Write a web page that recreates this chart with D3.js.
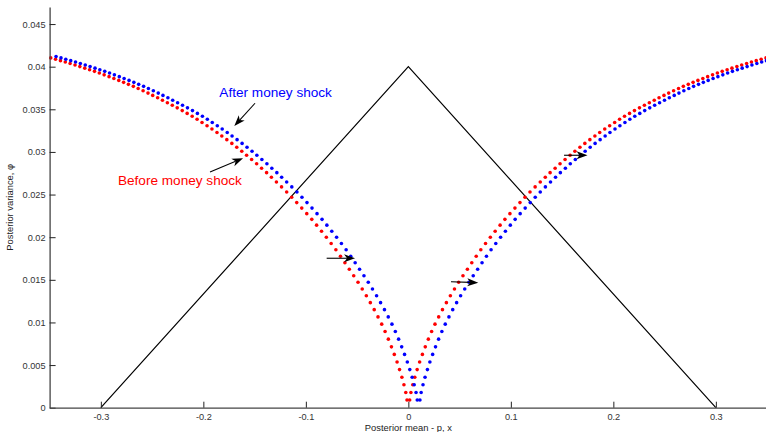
<!DOCTYPE html>
<html>
<head>
<meta charset="utf-8">
<script src="https://cdn.jsdelivr.net/npm/d3@7/dist/d3.min.js"></script>
<style>
  html, body { margin: 0; padding: 0; background: #fff; }
  svg { display: block; font-family: "Liberation Sans", Arial, sans-serif; }
</style>
</head>
<body>
<svg id="chart" width="766" height="432"></svg>
<script>
// Posterior variance levels shared by every dotted branch (one dot per level)
const phi = [
  0.00090, 0.00179, 0.00269, 0.00358, 0.00447, 0.00536, 0.00625, 0.00714, 0.00804, 0.00893,
  0.00980, 0.01065, 0.01150, 0.01232, 0.01313, 0.01392, 0.01471, 0.01548, 0.01624, 0.01701,
  0.01777, 0.01852, 0.01926, 0.01999, 0.02070, 0.02141, 0.02209, 0.02276, 0.02341, 0.02406,
  0.02469, 0.02530, 0.02590, 0.02648, 0.02703, 0.02757, 0.02809, 0.02861, 0.02911, 0.02961,
  0.03008, 0.03055, 0.03100, 0.03144, 0.03187, 0.03228, 0.03269, 0.03308, 0.03346, 0.03383,
  0.03418, 0.03452, 0.03485, 0.03517, 0.03547, 0.03577, 0.03606, 0.03635, 0.03663, 0.03690,
  0.03717, 0.03744, 0.03769, 0.03793, 0.03816, 0.03839, 0.03862, 0.03883, 0.03904, 0.03925,
  0.03945, 0.03964, 0.03983, 0.04001, 0.04019, 0.04037, 0.04054, 0.04071, 0.04087, 0.04103,
  0.04119
];

// Posterior mean before the money shock (left and right branch)
const beforeLeftX = [
  -0.0013, -0.0025, -0.0043, -0.0063, -0.0086, -0.0110, -0.0137, -0.0165, -0.0195, -0.0227,
  -0.0260, -0.0296, -0.0333, -0.0371, -0.0410, -0.0450, -0.0491, -0.0533, -0.0576, -0.0619,
  -0.0662, -0.0707, -0.0753, -0.0800, -0.0847, -0.0895, -0.0942, -0.0991, -0.1040, -0.1089,
  -0.1138, -0.1187, -0.1237, -0.1287, -0.1336, -0.1383, -0.1432, -0.1480, -0.1529, -0.1578,
  -0.1625, -0.1674, -0.1722, -0.1771, -0.1820, -0.1867, -0.1916, -0.1964, -0.2013, -0.2061,
  -0.2109, -0.2158, -0.2206, -0.2255, -0.2303, -0.2351, -0.2399, -0.2446, -0.2494, -0.2540,
  -0.2588, -0.2636, -0.2683, -0.2731, -0.2778, -0.2825, -0.2873, -0.2920, -0.2968, -0.3015,
  -0.3062, -0.3110, -0.3157, -0.3205, -0.3252, -0.3300, -0.3347, -0.3394, -0.3442, -0.3489,
  -0.3537
];
const beforeRightX = [
  0.0013, 0.0025, 0.0043, 0.0063, 0.0086, 0.0110, 0.0137, 0.0165, 0.0195, 0.0227,
  0.0260, 0.0296, 0.0333, 0.0371, 0.0410, 0.0450, 0.0491, 0.0533, 0.0576, 0.0619,
  0.0662, 0.0707, 0.0753, 0.0800, 0.0847, 0.0895, 0.0942, 0.0991, 0.1040, 0.1089,
  0.1138, 0.1187, 0.1237, 0.1287, 0.1336, 0.1383, 0.1432, 0.1480, 0.1529, 0.1578,
  0.1625, 0.1674, 0.1722, 0.1771, 0.1820, 0.1867, 0.1916, 0.1964, 0.2013, 0.2061,
  0.2109, 0.2158, 0.2206, 0.2255, 0.2303, 0.2351, 0.2399, 0.2446, 0.2494, 0.2540,
  0.2588, 0.2636, 0.2683, 0.2731, 0.2778, 0.2825, 0.2873, 0.2920, 0.2968, 0.3015,
  0.3062, 0.3110, 0.3157, 0.3205, 0.3252, 0.3300, 0.3347, 0.3394, 0.3442, 0.3489,
  0.3537
];

// Posterior mean after the money shock (left and right branch)
const afterLeftX = [
  0.0087, 0.0075, 0.0057, 0.0037, 0.0014, -0.0010, -0.0037, -0.0065, -0.0095, -0.0127,
  -0.0160, -0.0196, -0.0233, -0.0271, -0.0310, -0.0350, -0.0391, -0.0433, -0.0476, -0.0519,
  -0.0562, -0.0607, -0.0653, -0.0700, -0.0747, -0.0795, -0.0842, -0.0891, -0.0940, -0.0989,
  -0.1038, -0.1087, -0.1137, -0.1187, -0.1236, -0.1283, -0.1332, -0.1380, -0.1429, -0.1478,
  -0.1525, -0.1574, -0.1622, -0.1671, -0.1720, -0.1767, -0.1816, -0.1864, -0.1913, -0.1961,
  -0.2009, -0.2058, -0.2106, -0.2155, -0.2203, -0.2251, -0.2299, -0.2346, -0.2394, -0.2440,
  -0.2488, -0.2536, -0.2583, -0.2631, -0.2678, -0.2725, -0.2773, -0.2820, -0.2868, -0.2915,
  -0.2962, -0.3010, -0.3057, -0.3105, -0.3152, -0.3200, -0.3247, -0.3294, -0.3342, -0.3389,
  -0.3437
];
const afterRightX = [
  0.0113, 0.0125, 0.0143, 0.0163, 0.0186, 0.0210, 0.0237, 0.0265, 0.0295, 0.0327,
  0.0360, 0.0396, 0.0433, 0.0471, 0.0510, 0.0550, 0.0591, 0.0633, 0.0676, 0.0719,
  0.0762, 0.0807, 0.0853, 0.0900, 0.0947, 0.0995, 0.1042, 0.1091, 0.1140, 0.1189,
  0.1238, 0.1287, 0.1337, 0.1387, 0.1436, 0.1483, 0.1532, 0.1580, 0.1629, 0.1678,
  0.1725, 0.1774, 0.1822, 0.1871, 0.1920, 0.1967, 0.2016, 0.2064, 0.2113, 0.2161,
  0.2209, 0.2258, 0.2306, 0.2355, 0.2403, 0.2451, 0.2499, 0.2546, 0.2594, 0.2640,
  0.2688, 0.2736, 0.2783, 0.2831, 0.2878, 0.2925, 0.2973, 0.3020, 0.3068, 0.3115,
  0.3162, 0.3210, 0.3257, 0.3305, 0.3352, 0.3400, 0.3447, 0.3494, 0.3542, 0.3589,
  0.3637
];

// Prior variance tent
const tentX = [-0.3, 0, 0.3];
const tentY = [0, 0.04, 0];

// Axis ticks
const xTicks = [-0.3, -0.2, -0.1, 0, 0.1, 0.2, 0.3];
const xTickLabels = ["-0.3", "-0.2", "-0.1", "0", "0.1", "0.2", "0.3"];
const yTicks = [0, 0.005, 0.01, 0.015, 0.02, 0.025, 0.03, 0.035, 0.04, 0.045];
const yTickLabels = ["0", "0.005", "0.01", "0.015", "0.02", "0.025", "0.03", "0.035", "0.04", "0.045"];

// Annotation arrows in data units: [x0, y0, x1 (tip), y1 (tip)]
const arrows = [
  [-0.1496, 0.03571, -0.1698, 0.03304],
  [-0.1935, 0.02765, -0.1613, 0.02926],
  [-0.0797, 0.01753, -0.0520, 0.01753],
  [0.0416, 0.01478, 0.0682, 0.01466],
  [0.1519, 0.02961, 0.1748, 0.02961]
];
const labels = [
  { text: "After money shock", x: -0.1844, y: 0.03639, color: "#0000ff" },
  { text: "Before money shock", x: -0.2833, y: 0.02612, color: "#ff0000" }
];

const svg = d3.select("#chart");
const x = d3.scaleLinear().domain([-0.35, 0.35]).range([49.6, 767.1]);
const y = d3.scaleLinear().domain([0, 0.047]).range([407.7, 7]);

// Tent line
const line = d3.line().x(d => x(d[0])).y(d => y(d[1]));
svg.append("path")
  .datum(tentX.map((v, i) => [v, tentY[i]]))
  .attr("d", line)
  .attr("fill", "none")
  .attr("stroke", "#000")
  .attr("stroke-width", 1.2);

// Dotted series; dots outside the x range are not drawn
const inRange = d => d[0] >= -0.35 && d[0] <= 0.35;
function dots(leftX, rightX, color) {
  const pts = leftX.map((v, i) => [v, phi[i]])
    .concat(rightX.map((v, i) => [v, phi[i]]))
    .filter(inRange);
  svg.append("g").selectAll("circle")
    .data(pts)
    .join("circle")
    .attr("cx", d => x(d[0]))
    .attr("cy", d => y(d[1]))
    .attr("r", 1.8)
    .attr("fill", color);
}
dots(beforeLeftX, beforeRightX, "#ff0000");
dots(afterLeftX, afterRightX, "#0000ff");

// Axes
const yAxis = d3.axisLeft(y)
  .tickValues(yTicks)
  .tickFormat((d, i) => yTickLabels[i])
  .tickSizeInner(-6)
  .tickSizeOuter(0)
  .tickPadding(4);
const gy = svg.append("g").attr("transform", `translate(${x(-0.35)},0)`).call(yAxis);

const xAxis = d3.axisBottom(x)
  .tickValues(xTicks)
  .tickFormat((d, i) => xTickLabels[i])
  .tickSizeInner(-6)
  .tickSizeOuter(0)
  .tickPadding(6);
const gx = svg.append("g").attr("transform", `translate(0,${y(0)})`).call(xAxis);

[gx, gy].forEach(g => {
  g.select(".domain").attr("stroke", "#444").attr("stroke-width", 1.3);
  g.selectAll(".tick line").attr("stroke", "#222").attr("stroke-width", 1);
  g.selectAll(".tick text")
    .attr("fill", "#333")
    .style("font-size", "9.2px")
    .style("font-family", '"Liberation Sans", Arial, sans-serif');
});

// Axis titles
svg.append("text")
  .attr("x", x(0))
  .attr("y", 431)
  .attr("text-anchor", "middle")
  .attr("fill", "#222")
  .style("font-size", "9.4px")
  .text("Posterior mean - p, x");

svg.append("text")
  .attr("transform", `translate(13,${(y(0) + y(0.047)) / 2}) rotate(-90)`)
  .attr("text-anchor", "middle")
  .attr("fill", "#222")
  .style("font-size", "9.4px")
  .text("Posterior variance, \u03c6");

// Arrows
function arrow(a) {
  const x0 = x(a[0]), y0 = y(a[1]), x1 = x(a[2]), y1 = y(a[3]);
  const ang = Math.atan2(y1 - y0, x1 - x0);
  const L = 11, W = 4, N = 8;
  const c = Math.cos(ang), s = Math.sin(ang);
  const p = (dx, dy) => [x1 + dx * c - dy * s, y1 + dx * s + dy * c];
  svg.append("line")
    .attr("x1", x0).attr("y1", y0)
    .attr("x2", p(-N, 0)[0]).attr("y2", p(-N, 0)[1])
    .attr("stroke", "#000").attr("stroke-width", 1.1);
  svg.append("path")
    .attr("d", "M" + [p(0, 0), p(-L, -W), p(-N, 0), p(-L, W)].map(q => q.join(",")).join("L") + "Z")
    .attr("fill", "#000");
}
arrows.forEach(arrow);

// Series labels
labels.forEach(l => {
  svg.append("text")
    .attr("x", x(l.x))
    .attr("y", y(l.y))
    .attr("fill", l.color)
    .style("font-size", "13.6px")
    .text(l.text);
});
</script>
</body>
</html>
